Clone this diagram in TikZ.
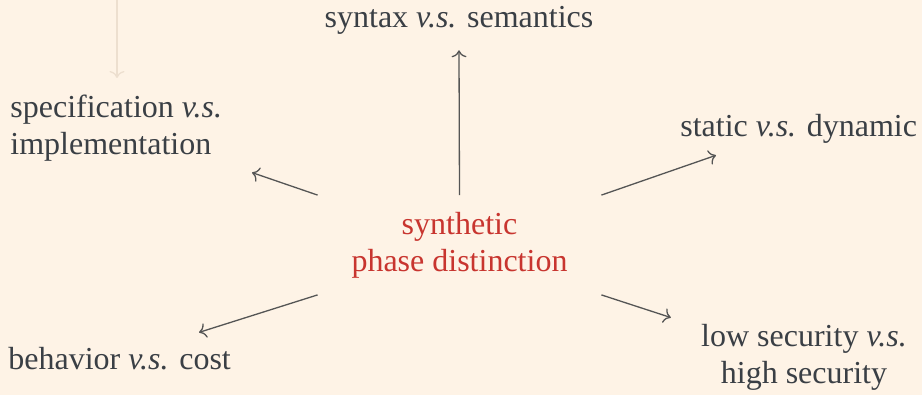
\documentclass[tikz,border=0pt]{standalone}
\usepackage{fontspec}
\setmainfont{Liberation Serif}
\usepackage{tikz}
\usetikzlibrary{arrows.meta, positioning, calc}

\definecolor{bgpeach}{HTML}{FEF3E6}
\definecolor{inkgrey}{HTML}{3A3F45}
\definecolor{arrowgrey}{HTML}{555555}
\definecolor{phasered}{HTML}{C8352F}
\definecolor{fadeline}{HTML}{EDDFCF}

\begin{document}
\begin{tikzpicture}[
  x=0.5pt, y=-0.5pt,
  every node/.style={font=\fontsize{16}{18.5}\selectfont, text=inkgrey, inner sep=0pt},
  >={To[length=3.5pt,width=7.5pt]},
  arrow/.style={->, line width=0.65pt, draw=arrowgrey},
  centre/.style={text=phasered, align=center, minimum width=141.5pt, minimum height=49.5pt}
]
\fill[bgpeach] (0,0) rectangle (922,395);
\useasboundingbox (0,0) rectangle (922,395);

% faint arrow at the top
\coordinate (fadetop) at (117,0);
\coordinate (fadebot) at (117,78);
\draw[->, line width=0.65pt, draw=fadeline] (fadetop) -- (fadebot);

% centre
\node[centre] (phase) at (459.5,245) {synthetic\\phase distinction};

% distinctions
\node[anchor=base] (syn) at (459,28) {syntax \textit{v.s.} semantics};
\node[anchor=west, align=left] (spec) at (10,128) {specification \textit{v.s.}\\implementation};
\node[anchor=base west] (stat) at (680,137) {static \textit{v.s.} dynamic};
\node[anchor=base west] (beh) at (8,370) {behavior \textit{v.s.} cost};
\node[align=center] (low) at (804,357) {low security \textit{v.s.}\\high security};

\draw[arrow] (phase.north) -- ($(syn.south)+(0,15)$);
\draw[arrow] (phase.north west) -- ($(spec.south west)+(242,11)$);
\draw[arrow] (phase.north east) -- ($(stat.south west)+(36,11)$);
\draw[arrow] (phase.south west) -- ($(beh.north west)+(191,-15)$);
\draw[arrow] (phase.south east) -- ($(low.north west)+(-30,-6)$);
\end{tikzpicture}
\end{document}
